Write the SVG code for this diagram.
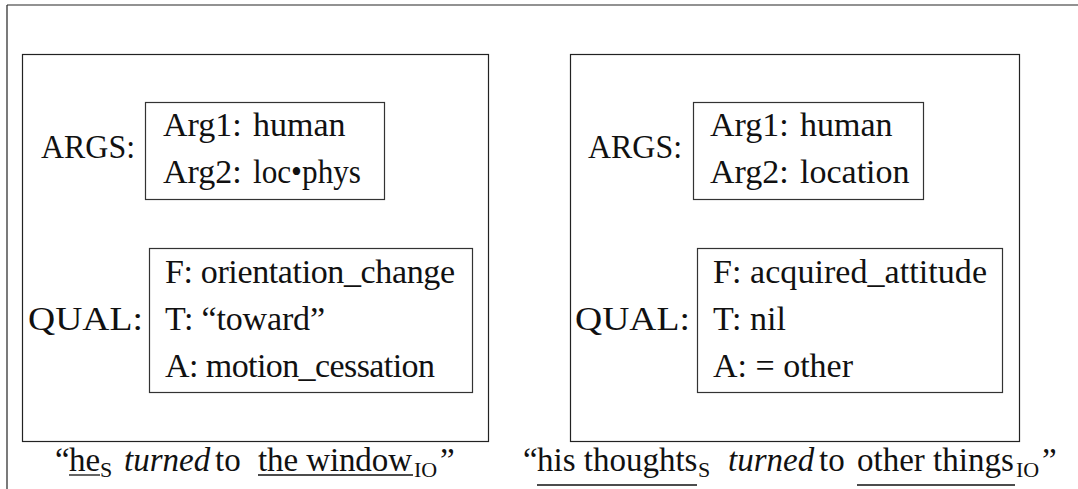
<svg xmlns="http://www.w3.org/2000/svg" width="1078" height="489" viewBox="0 0 1078 489">
  <style>
    .frame { fill: none; stroke: #222; stroke-width: 1.2; }
    .box { fill: #fff; stroke: #333; stroke-width: 1.2; }
    .t { font-family: "Liberation Serif", "Times New Roman", serif; font-size: 34px; fill: #111; }
    .cap { font-family: "Liberation Serif", "Times New Roman", serif; font-size: 33px; fill: #111; }
    .it { font-style: italic; }
    .sub { font-family: "Liberation Serif", "Times New Roman", serif; font-size: 22px; fill: #111; }
    .ul { stroke: #111; stroke-width: 1.3; }
  </style>

  <rect width="1078" height="489" fill="#fff"/>

  <!-- page border (top and left edges) -->
  <line x1="7" y1="5" x2="1078" y2="5" stroke="#6e6e6e" stroke-width="1.6"/>
  <line x1="7" y1="5" x2="7" y2="489" stroke="#222" stroke-width="1.2"/>

  <!-- left entry: "he turned to the window" -->
  <g id="panel-left">
    <rect class="frame" x="22.5" y="54.5" width="466" height="387"/>
    <text class="t" x="41" y="158" textLength="94" lengthAdjust="spacingAndGlyphs">ARGS:</text>
    <text class="t" x="28" y="330" textLength="115" lengthAdjust="spacingAndGlyphs">QUAL:</text>
  </g>
  <g id="args-left">
    <rect class="box" x="145.5" y="102.5" width="239" height="97"/>
    <text class="t" x="163" y="136">Arg1:</text>
    <text class="t" x="253" y="136">human</text>
    <text class="t" x="163" y="183">Arg2:</text>
    <text class="t" x="253" y="183" textLength="108" lengthAdjust="spacingAndGlyphs">loc•phys</text>
  </g>
  <g id="qual-left">
    <rect class="box" x="149.5" y="248.5" width="323" height="144"/>
    <text class="t" x="165" y="283" textLength="290">F: orientation_change</text>
    <text class="t" x="165" y="330" textLength="160">T: “toward”</text>
    <text class="t" x="165" y="377" textLength="270">A: motion_cessation</text>
  </g>
  <g id="caption-left">
    <text class="cap" x="55" y="471">“</text>
    <text class="cap" x="69" y="471">he</text>
    <text class="sub" x="100" y="477">S</text>
    <text class="cap it" x="124" y="471">turned</text>
    <text class="cap" x="215" y="471">to</text>
    <text class="cap" x="258" y="471" textLength="154">the window</text>
    <text class="sub" x="414" y="477">IO</text>
    <text class="cap" x="440" y="471">”</text>
    <line class="ul" x1="69" y1="475" x2="100" y2="475"/>
    <line class="ul" x1="258" y1="475" x2="413" y2="475"/>
  </g>

  <!-- right entry: "his thoughts turned to other things" -->
  <g id="panel-right">
    <rect class="frame" x="570.5" y="54.5" width="449" height="387"/>
    <text class="t" x="588" y="158" textLength="94" lengthAdjust="spacingAndGlyphs">ARGS:</text>
    <text class="t" x="575" y="330" textLength="115" lengthAdjust="spacingAndGlyphs">QUAL:</text>
  </g>
  <g id="args-right">
    <rect class="box" x="693.5" y="102.5" width="230" height="97"/>
    <text class="t" x="710" y="136">Arg1:</text>
    <text class="t" x="800" y="136">human</text>
    <text class="t" x="710" y="183">Arg2:</text>
    <text class="t" x="800" y="183">location</text>
  </g>
  <g id="qual-right">
    <rect class="box" x="697.5" y="248.5" width="305" height="144"/>
    <text class="t" x="713" y="283" textLength="274">F: acquired_attitude</text>
    <text class="t" x="713" y="330">T: nil</text>
    <text class="t" x="713" y="377">A: = other</text>
  </g>
  <g id="caption-right">
    <text class="cap" x="523" y="471">“</text>
    <text class="cap" x="537" y="471">his thoughts</text>
    <text class="sub" x="698" y="477">S</text>
    <text class="cap it" x="728" y="471">turned</text>
    <text class="cap" x="819" y="471">to</text>
    <text class="cap" x="857" y="471">other things</text>
    <text class="sub" x="1016" y="477">IO</text>
    <text class="cap" x="1042" y="471">”</text>
    <line class="ul" x1="537" y1="485" x2="697" y2="485"/>
    <line class="ul" x1="857" y1="485" x2="1015" y2="485"/>
  </g>

  <g id="connectors"/>
</svg>
